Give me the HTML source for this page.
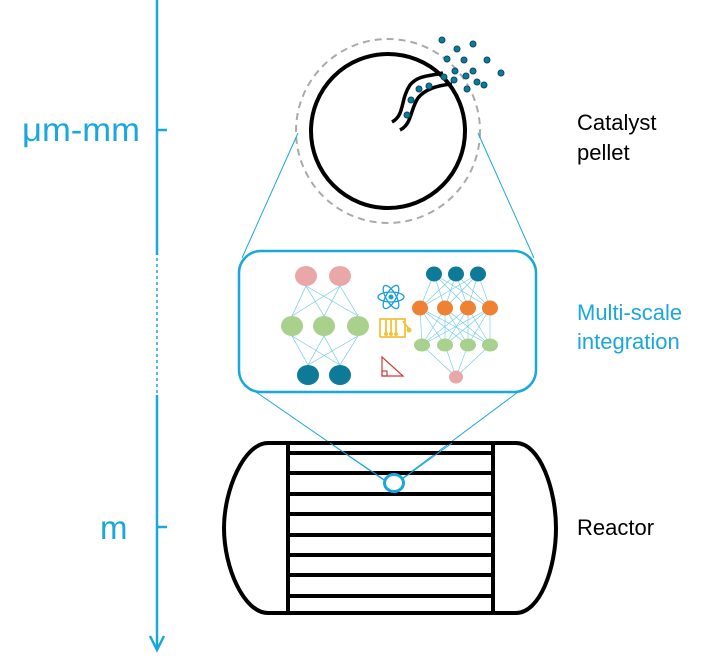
<!DOCTYPE html>
<html><head><style>
body{margin:0;background:#fff;}
svg{display:block;font-family:"Liberation Sans",sans-serif;}
</style></head><body>
<svg width="720" height="666" viewBox="0 0 720 666">
<!-- axis -->
<g stroke="#1aa7dc" stroke-width="2.5" fill="none">
<line x1="157" y1="0" x2="157" y2="255"/>
<line x1="157" y1="258" x2="157" y2="395" stroke-width="1.5" stroke-dasharray="3,3"/>
<line x1="157" y1="395" x2="157" y2="648"/>
<polyline points="150,636 157,650 164,636"/>
<line x1="157" y1="130" x2="167" y2="130"/>
<line x1="157" y1="527" x2="167" y2="527"/>
</g>
<text x="22" y="141" font-size="33" fill="#1aa7dc" textLength="118" lengthAdjust="spacingAndGlyphs">μm-mm</text>
<text x="100" y="539" font-size="33" fill="#1aa7dc">m</text>
<!-- pellet -->
<circle cx="388" cy="131" r="92" fill="none" stroke="#aaa" stroke-width="2" stroke-dasharray="7,5"/>
<circle cx="388" cy="131" r="77" fill="#fff" stroke="#000" stroke-width="4"/>
<path d="M392,122 C405,115 400,100 410,85 C418,75 430,76 443,73" fill="none" stroke="#000" stroke-width="3.5"/>
<path d="M400,130 C412,124 410,110 418,98 C426,88 440,85 452,84" fill="none" stroke="#000" stroke-width="3.5"/>
<g fill="#0d7a9a" stroke="#084b60" stroke-width="1">
<circle cx="442" cy="40" r="3"/><circle cx="457" cy="49" r="3"/><circle cx="473" cy="44" r="3"/>
<circle cx="447" cy="59" r="3"/><circle cx="464" cy="60" r="3"/><circle cx="487" cy="60" r="3"/>
<circle cx="455" cy="71" r="3"/><circle cx="466" cy="76" r="3"/><circle cx="473" cy="71" r="3"/>
<circle cx="501" cy="73" r="3"/><circle cx="444" cy="77" r="3"/><circle cx="454" cy="80" r="3"/>
<circle cx="477" cy="82" r="3"/><circle cx="484" cy="85" r="3"/><circle cx="467" cy="89" r="3"/>
<circle cx="419" cy="89" r="3"/><circle cx="429" cy="86" r="3"/><circle cx="411" cy="100" r="3"/>
<circle cx="407" cy="115" r="3"/>
</g>
<!-- connector lines -->
<g stroke="#1aa7dc" stroke-width="1" fill="none">
<line x1="298" y1="133" x2="242" y2="258"/>
<line x1="478" y1="133" x2="534" y2="258"/>
<line x1="256" y1="392" x2="388" y2="483"/>
<line x1="518" y1="392" x2="400" y2="480"/>
</g>
<!-- box -->
<rect x="239" y="251" width="297" height="141" rx="22" fill="#fff" stroke="#1aa7dc" stroke-width="2.5"/>
<!-- left network -->
<g stroke="#6cc8ea" stroke-width="0.7">
<line x1="306" y1="286" x2="292" y2="316"/><line x1="306" y1="286" x2="324" y2="316"/><line x1="306" y1="286" x2="358" y2="316"/>
<line x1="340" y1="286" x2="292" y2="316"/><line x1="340" y1="286" x2="324" y2="316"/><line x1="340" y1="286" x2="358" y2="316"/>
<line x1="308" y1="365" x2="292" y2="336"/><line x1="308" y1="365" x2="324" y2="336"/><line x1="308" y1="365" x2="358" y2="336"/>
<line x1="340" y1="365" x2="292" y2="336"/><line x1="340" y1="365" x2="324" y2="336"/><line x1="340" y1="365" x2="358" y2="336"/>
</g>
<g fill="#e9a7a8"><ellipse cx="306" cy="276" rx="11" ry="10"/><ellipse cx="340" cy="276" rx="11" ry="10"/></g>
<g fill="#a8d18c"><ellipse cx="292" cy="326" rx="11" ry="10"/><ellipse cx="324" cy="326" rx="11" ry="10"/><ellipse cx="358" cy="326" rx="11" ry="10"/></g>
<g fill="#0d7a9a"><ellipse cx="308" cy="375" rx="11" ry="10"/><ellipse cx="340" cy="375" rx="11" ry="10"/></g>
<!-- icons -->
<g fill="none" stroke="#1a9fd8" stroke-width="1.3">
<ellipse cx="391" cy="297" rx="13" ry="5"/>
<ellipse cx="391" cy="297" rx="13" ry="5" transform="rotate(60 391 297)"/>
<ellipse cx="391" cy="297" rx="13" ry="5" transform="rotate(-60 391 297)"/>
</g>
<circle cx="391" cy="297" r="2.5" fill="#1a9fd8"/>
<g stroke="#f3c13a" stroke-width="1.8" fill="none">
<polyline points="380,337 380,319 405,319 405,337 380,337"/>
<line x1="386" y1="319" x2="386" y2="333"/><line x1="391" y1="319" x2="391" y2="333"/><line x1="396" y1="319" x2="396" y2="333"/>
<line x1="403" y1="321" x2="409" y2="329"/>
</g>
<g fill="#f3c13a"><circle cx="386" cy="334" r="2"/><circle cx="391" cy="334" r="2"/><circle cx="396" cy="334" r="2"/><circle cx="409" cy="330" r="2.5"/></g>
<g stroke="#d63a36" stroke-width="1.2" fill="none">
<polygon points="382,357 382,376 403,376"/>
<rect x="382" y="371" width="5" height="5"/>
</g>
<!-- right network -->
<g stroke="#6cc8ea" stroke-width="0.6">
<line x1="434" y1="274" x2="420" y2="308"/><line x1="434" y1="274" x2="445" y2="308"/><line x1="434" y1="274" x2="468" y2="308"/><line x1="434" y1="274" x2="490" y2="308"/>
<line x1="456" y1="274" x2="420" y2="308"/><line x1="456" y1="274" x2="445" y2="308"/><line x1="456" y1="274" x2="468" y2="308"/><line x1="456" y1="274" x2="490" y2="308"/>
<line x1="478" y1="274" x2="420" y2="308"/><line x1="478" y1="274" x2="445" y2="308"/><line x1="478" y1="274" x2="468" y2="308"/><line x1="478" y1="274" x2="490" y2="308"/>
<line x1="420" y1="308" x2="422" y2="345"/><line x1="420" y1="308" x2="445" y2="345"/><line x1="420" y1="308" x2="468" y2="345"/><line x1="420" y1="308" x2="490" y2="345"/>
<line x1="445" y1="308" x2="422" y2="345"/><line x1="445" y1="308" x2="445" y2="345"/><line x1="445" y1="308" x2="468" y2="345"/><line x1="445" y1="308" x2="490" y2="345"/>
<line x1="468" y1="308" x2="422" y2="345"/><line x1="468" y1="308" x2="445" y2="345"/><line x1="468" y1="308" x2="468" y2="345"/><line x1="468" y1="308" x2="490" y2="345"/>
<line x1="490" y1="308" x2="422" y2="345"/><line x1="490" y1="308" x2="445" y2="345"/><line x1="490" y1="308" x2="468" y2="345"/><line x1="490" y1="308" x2="490" y2="345"/>
<line x1="422" y1="345" x2="456" y2="377"/><line x1="445" y1="345" x2="456" y2="377"/><line x1="468" y1="345" x2="456" y2="377"/><line x1="490" y1="345" x2="456" y2="377"/>
</g>
<g fill="#0d7a9a"><ellipse cx="434" cy="274" rx="8" ry="7.5"/><ellipse cx="456" cy="274" rx="8" ry="7.5"/><ellipse cx="478" cy="274" rx="8" ry="7.5"/></g>
<g fill="#ee8232"><ellipse cx="420" cy="308" rx="8" ry="7.5"/><ellipse cx="445" cy="308" rx="8" ry="7.5"/><ellipse cx="468" cy="308" rx="8" ry="7.5"/><ellipse cx="490" cy="308" rx="8" ry="7.5"/></g>
<g fill="#a8d18c"><ellipse cx="422" cy="345" rx="8" ry="6.5"/><ellipse cx="445" cy="345" rx="8" ry="6.5"/><ellipse cx="468" cy="345" rx="8" ry="6.5"/><ellipse cx="490" cy="345" rx="8" ry="6.5"/></g>
<ellipse cx="456" cy="377" rx="7" ry="6.5" fill="#e9a7a8"/>
<!-- reactor -->
<g stroke="#000" stroke-width="4" fill="none">
<path d="M268,443 L516,443 C540,443 556,490 556,528 C556,568 540,613 516,613 L268,613 C244,613 224,568 224,528 C224,490 244,443 268,443 Z"/>
<line x1="288" y1="443" x2="288" y2="613"/>
<line x1="493" y1="443" x2="493" y2="613"/>
<line x1="288" y1="453" x2="493" y2="453"/>
<line x1="288" y1="473" x2="493" y2="473"/>
<line x1="288" y1="494" x2="493" y2="494"/>
<line x1="288" y1="514" x2="493" y2="514"/>
<line x1="288" y1="535" x2="493" y2="535"/>
<line x1="288" y1="555" x2="493" y2="555"/>
<line x1="288" y1="575" x2="493" y2="575"/>
<line x1="288" y1="596" x2="493" y2="596"/>
</g>
<g stroke="#1aa7dc" stroke-width="1" fill="none">
<line x1="330" y1="443" x2="386" y2="481"/>
<line x1="452" y1="443" x2="401" y2="480"/>
</g>
<ellipse cx="394" cy="483" rx="9.5" ry="8.5" fill="#fff" stroke="#1aa7dc" stroke-width="3"/>
<!-- labels -->
<text x="577" y="130" font-size="22" fill="#000">Catalyst</text>
<text x="577" y="160" font-size="22" fill="#000">pellet</text>
<text x="577" y="320" font-size="22" fill="#1aa7dc">Multi-scale</text>
<text x="577" y="349" font-size="22" fill="#1aa7dc">integration</text>
<text x="577" y="535" font-size="22" fill="#000">Reactor</text>
</svg>
</body></html>
